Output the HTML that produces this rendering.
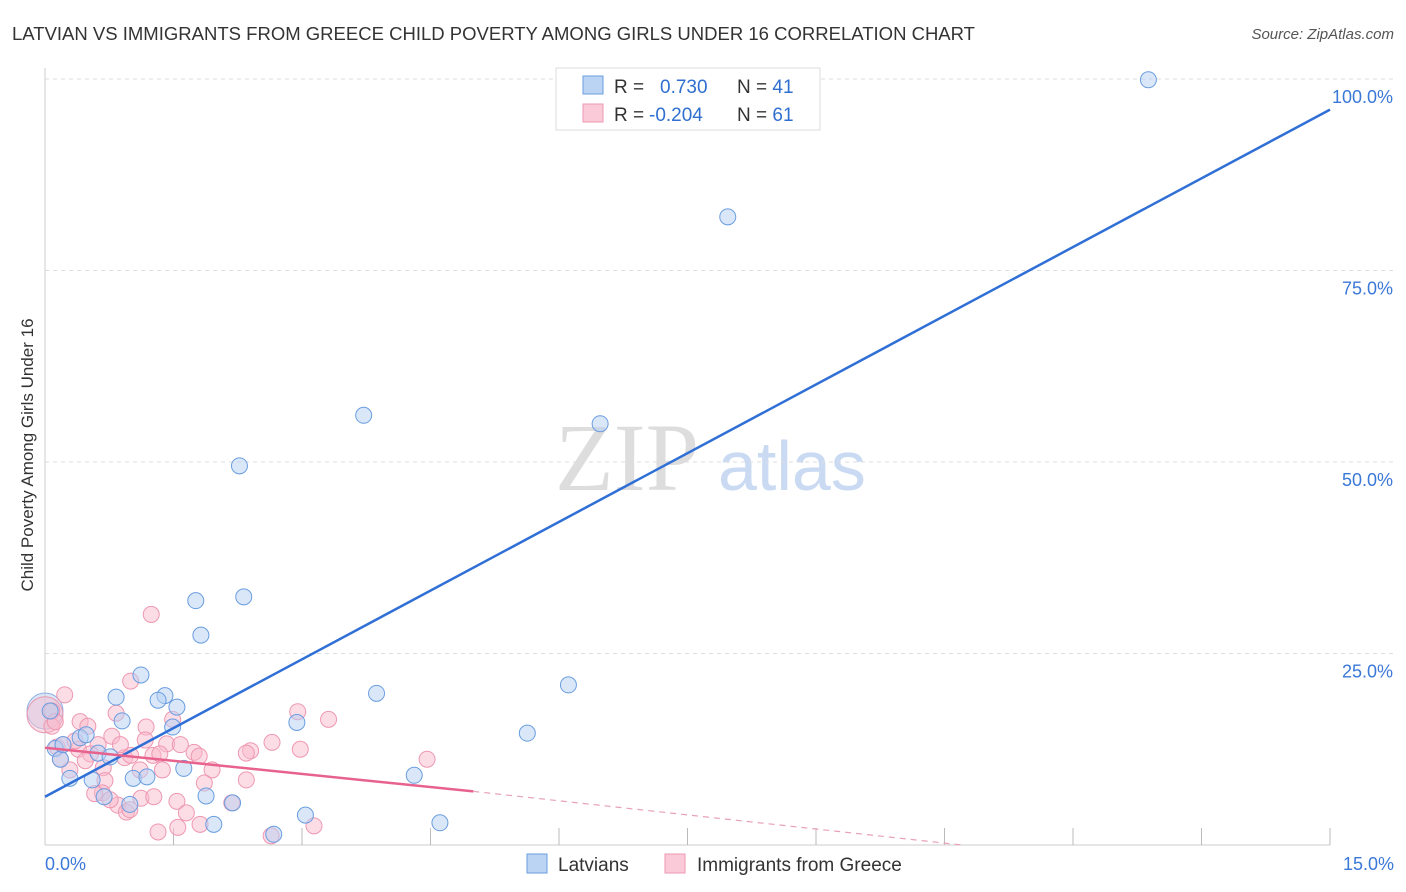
<!DOCTYPE html>
<html><head><meta charset="utf-8"><style>
body{margin:0;background:#fff;font-family:"Liberation Sans",sans-serif;}
</style></head><body>
<svg id="c" width="1406" height="892" style="position:absolute;left:0;top:0">
<text x="12" y="40" font-size="18" fill="#333" textLength="963" lengthAdjust="spacingAndGlyphs">LATVIAN VS IMMIGRANTS FROM GREECE CHILD POVERTY AMONG GIRLS UNDER 16 CORRELATION CHART</text>
<text x="1394" y="39" font-size="15" fill="#555" text-anchor="end" font-style="italic">Source: ZipAtlas.com</text>
<text x="33" y="455" font-size="17" fill="#333" text-anchor="middle" transform="rotate(-90 33 455)">Child Poverty Among Girls Under 16</text>
<text x="555" y="490" font-size="96" fill="#ddd" font-family="Liberation Serif,serif">ZIP</text>
<text x="718" y="490" font-size="70" fill="#c9daf2">atlas</text>
<g id="grid"></g><g id="pts"></g><g id="lines"></g>
<g>
<rect x="556" y="68" width="264" height="62" fill="#fff" stroke="#ddd"/>
<rect x="583" y="76" width="20" height="18" fill="#bcd4f4" stroke="#6a9de0"/>
<rect x="583" y="104" width="20" height="18" fill="#fbcad8" stroke="#ee98b2"/>
<text x="614" y="93" font-size="19" fill="#333">R = <tspan fill="#2f6fd0" x="660">0.730</tspan><tspan x="737" fill="#333">N = </tspan><tspan fill="#2f6fd0">41</tspan></text>
<text x="614" y="121" font-size="19" fill="#333">R = <tspan fill="#2f6fd0" x="649">-0.204</tspan><tspan x="737" fill="#333">N = </tspan><tspan fill="#2f6fd0">61</tspan></text>
</g>
<g>
<rect x="527" y="854" width="20" height="19" fill="#bcd4f4" stroke="#6a9de0"/>
<text x="558" y="871" font-size="19" fill="#333">Latvians</text>
<rect x="665" y="854" width="20" height="19" fill="#fbcad8" stroke="#ee98b2"/>
<text x="697" y="871" font-size="19" fill="#333">Immigrants from Greece</text>
</g>
<text x="45" y="870" font-size="18" fill="#3b78d8">0.0%</text>
<text x="1394" y="870" font-size="18" fill="#3b78d8" text-anchor="end">15.0%</text>
</svg>
<script>
const yTicks=[100,75,50,25];
const xTickVals=[1.5,3,4.5,6,7.5,9,10.5,12,13.5,15];
const blueX=[12.88,7.97,3.72,6.48,2.27,1.76,2.32,1.82,1.12,1.4,1.32,1.54,0.83,3.87,6.11,0.9,1.49,2.94,5.63,0.41,0.48,0.12,0.18,0.62,0.76,0.29,0.55,1.03,1.19,1.62,4.31,1.88,2.19,0.99,0.69,3.04,4.61,1.97,2.67,0.06,0.21];
const blueY=[99.9,82.0,56.1,55.0,49.5,31.9,32.4,27.4,22.2,19.5,18.9,18.0,19.3,19.8,20.9,16.2,15.4,16.0,14.6,14.0,14.4,12.6,11.2,12.0,11.5,8.7,8.5,8.7,8.9,10.0,9.1,6.4,5.5,5.3,6.3,3.9,2.9,2.7,1.4,17.5,13.1];
const pinkX=[1.24,0.23,1.0,0.08,0.08,0.41,0.5,0.83,1.18,1.49,2.95,3.31,1.17,1.42,0.62,0.78,1.74,1.8,2.4,2.35,2.65,2.98,4.46,0.14,0.21,0.39,0.53,0.93,1.0,1.26,1.34,0.68,0.7,1.37,1.95,1.86,2.35,0.67,0.58,0.85,0.95,0.99,1.12,1.27,1.54,1.65,1.81,1.55,1.32,2.18,3.14,2.64,0.29,0.18,0.12,0.47,0.76,1.11,0.35,1.58,0.88];
const pinkY=[30.1,19.6,21.4,17.5,15.5,16.1,15.5,17.2,15.4,16.4,17.4,16.4,13.7,13.2,13.1,14.2,12.1,11.6,12.3,12.0,13.4,12.5,11.2,12.8,13.1,12.5,11.9,11.4,11.7,11.7,11.9,10.1,8.4,9.8,9.8,8.1,8.5,6.8,6.7,5.2,4.3,4.6,6.1,6.3,5.7,4.2,2.7,2.3,1.7,5.5,2.5,1.2,9.8,11.2,16.1,11.0,5.9,9.8,13.6,13.1,13.1];
const X=v=>45+v/15*1285, Y=v=>845-v/100*766;
const NS="http://www.w3.org/2000/svg";
function mk(t,a,p){const e=document.createElementNS(NS,t);for(const k in a)e.setAttribute(k,a[k]);p.appendChild(e);return e;}
const g=document.getElementById('grid');
mk('line',{x1:45,y1:68,x2:45,y2:845,stroke:'#ccc'},g);
mk('line',{x1:45,y1:845,x2:1330,y2:845,stroke:'#ccc'},g);
yTicks.forEach(t=>{
 const l=mk('line',{x1:45,y1:Y(t),x2:1394,y2:Y(t),stroke:'#ddd','stroke-dasharray':'4 4'},g);
 
 
 const tx=mk('text',{x:1393,y:Y(t)+24,'font-size':18,fill:'#3b78d8','text-anchor':'end'},g);
 tx.textContent=t.toFixed(1)+'%';
 
 
});
xTickVals.forEach(t=>{
 const l=mk('line',{x1:X(t),y1:828,x2:X(t),y2:845,stroke:'#bbb'},g);
 
 
});
const p=document.getElementById('pts');
function big(x,y,f,s){mk('circle',{cx:X(x),cy:Y(y),r:18,fill:f,'fill-opacity':0.5,stroke:s},p);}
big(0,17.5,'#b9cdee','#8fb0e6');big(0,17,'#f5bdd0','#e898b2');
pinkX.forEach((x,i)=>{const c=mk('circle',{cx:X(x),cy:Y(pinkY[i]),r:8,fill:'#f9b9cc','fill-opacity':0.5,stroke:'#ee98b2'},p);
 
 });
blueX.forEach((x,i)=>{const c=mk('circle',{cx:X(x),cy:Y(blueY[i]),r:8,fill:'#b3cff3','fill-opacity':0.5,stroke:'#6a9de0'},p);
 
 });
const L=document.getElementById('lines');
const bl=mk('line',{x1:X(0),y1:Y(6.3),x2:X(15),y2:Y(96),stroke:'#2f6fd6','stroke-width':2.5},L);


const pl=mk('line',{x1:X(0),y1:Y(12.7),x2:X(5),y2:Y(7),stroke:'#e8628e','stroke-width':2.5},L);


const pd=mk('line',{x1:X(5),y1:Y(7),x2:X(10.7),y2:Y(0),stroke:'#e8a0b8','stroke-width':1.2,'stroke-dasharray':'6 5'},L);


</script>
</body></html>
